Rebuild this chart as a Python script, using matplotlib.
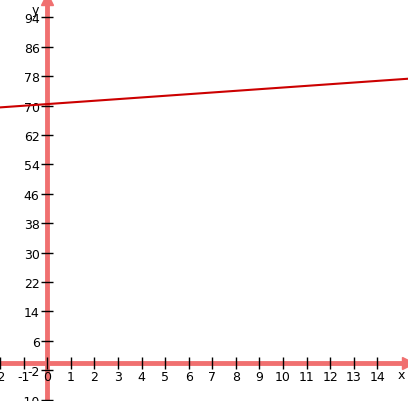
import matplotlib
matplotlib.use("Agg")
import matplotlib.pyplot as plt
plt.rcParams['axes.unicode_minus'] = False

line_x = [-2.0, 15.3]
line_y = [69.5, 77.3]
x_ticks = list(range(-2, 15))
y_ticks = list(range(-10, 95, 8))

fig = plt.figure(figsize=(4.08, 4.02), dpi=100)
ax = fig.add_axes([0, 0, 1, 1])
ax.set_xlim(-2.0, 15.3)
ax.set_ylim(-10.4, 99)
axc = '#f07070'
for s in ['top', 'right']:
    ax.spines[s].set_visible(False)
ax.spines['left'].set_position(('data', 0))
ax.spines['bottom'].set_position(('data', 0))
for s in ['left', 'bottom']:
    ax.spines[s].set_color(axc)
    ax.spines[s].set_linewidth(3.5)
    ax.spines[s].set_zorder(1)
ax.set_xticks(x_ticks)
ax.set_yticks(y_ticks)
ax.tick_params(direction='inout', length=9, width=1, color='black',
               labelsize=9, pad=1)
ax.plot([15.3], [0], marker='>', color=axc, ms=9, clip_on=False, zorder=3)
ax.plot([0], [99], marker='^', color=axc, ms=9, clip_on=False, zorder=3)
ax.text(15.0, -1.5, 'x', fontsize=9, ha='center', va='top')
ax.text(-0.35, 98, 'y', fontsize=9, ha='right', va='top')
ax.plot(line_x, line_y, color='#cc0000', lw=1.5, zorder=4, clip_on=False)
fig.savefig('out.png', dpi=100)
